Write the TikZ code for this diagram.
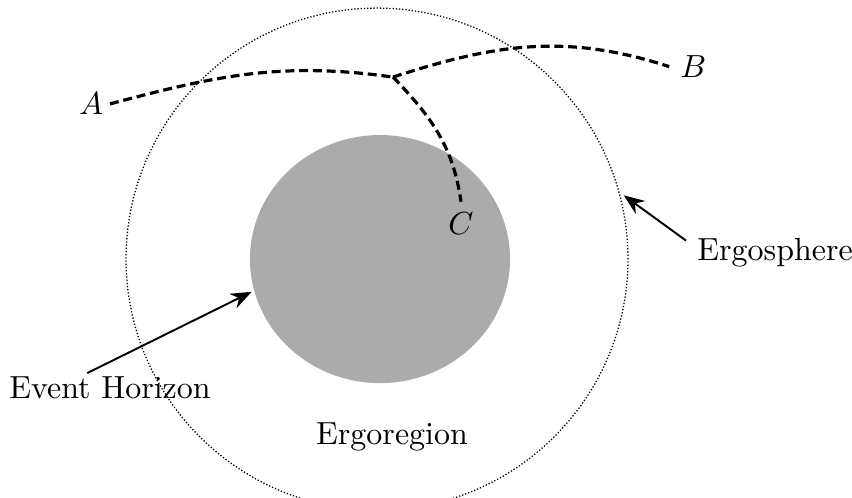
\documentclass[tikz,border=0pt]{standalone}
\usetikzlibrary{arrows.meta}
\begin{document}
\begin{tikzpicture}[
    worldline/.style={line width=1pt, dash pattern=on 2.8pt off 1.5pt},
    pointer/.style={semithick, -{Stealth[length=6.5pt, width=5pt]}}
]
\useasboundingbox (0,0) rectangle (9.363,5.462);

% Centres
\coordinate (O) at (4.143,2.615);
\coordinate (E) at (4.176,2.615);

% Ergoregion (gray) and ergosphere (dotted)
\fill[black!33] (E) ellipse (1.429 and 1.363);
\draw[line width=0.4pt, dash pattern=on 0.4pt off 0.6pt] (O) circle (2.758);

% Labels
\node[inner sep=2pt] (A) at (1.0,4.32) {$A$};
\node (B) at (7.62,4.73) {$B$};
\node (C) at (5.066,3.0) {$C$};
\node[anchor=west] (sphere) at (7.54,2.68) {Ergosphere};
\node[inner sep=1pt] (horizon) at (1.209,1.198) {Event Horizon};
\node (region) at (4.308,0.659) {Ergoregion};

% Particle paths
\coordinate (J) at (4.319,4.615);
\draw[worldline] (A.east) to[out=15, in=172] (J);
\draw[worldline] (J) to[out=18, in=162] (B.west);
\draw[worldline] (J) to[out=-46, in=98] (C.north);

% Arrows
\draw[pointer] (sphere.172) -- ([shift={(O)}]14.5:2.8);
\draw[pointer] ([xshift=-0.25cm]horizon.north) -- ([shift={(E)}]195:1.46 and 1.39);
\end{tikzpicture}
\end{document}
